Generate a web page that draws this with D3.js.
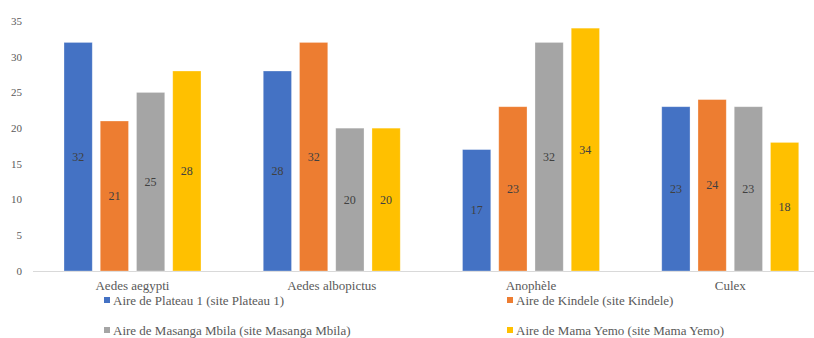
<!DOCTYPE html>
<html>
<head>
<meta charset="utf-8">
<script src="https://cdn.jsdelivr.net/npm/d3@7"></script>
<style>
  html, body { margin: 0; padding: 0; background: #fff; }
  svg text { font-family: "Liberation Serif", "Times New Roman", serif; }
</style>
</head>
<body>
<div class="container"></div>
<script>
const categories = ["Aedes aegypti", "Aedes albopictus", "Anophèle", "Culex"];
const seriesNames = [
  "Aire de Plateau 1 (site Plateau 1)",
  "Aire de Kindele (site Kindele)",
  "Aire de Masanga Mbila (site Masanga Mbila)",
  "Aire de Mama Yemo (site Mama Yemo)"
];
const plateau = [32, 28, 17, 23];
const kindele = [21, 32, 23, 24];
const masanga = [25, 20, 32, 23];
const mamaYemo = [28, 20, 34, 18];
const yTicks = [0, 5, 10, 15, 20, 25, 30, 35];

const colors = ["#4472c4", "#ed7d31", "#a5a5a5", "#ffc000"];
const series = [plateau, kindele, masanga, mamaYemo];

const width = 814, height = 338;

const svg = d3.select(".container")
  .append("svg")
  .attr("width", width)
  .attr("height", height);

const y = d3.scaleLinear().domain([0, 35]).range([271, 21]);

// groupes de barres
const x0 = d3.scaleBand()
  .domain(categories)
  .range([33, 830]);

const x1 = d3.scaleBand()
  .domain(d3.range(seriesNames.length))
  .range([31, 168])
  .paddingInner(0.22);

// y labels
svg.append("g")
  .selectAll("text")
  .data(yTicks)
  .join("text")
  .attr("x", 22)
  .attr("y", d => y(d))
  .attr("dy", "0.35em")
  .attr("text-anchor", "end")
  .attr("font-size", 11)
  .attr("fill", "#595959")
  .text(d => d);

// baseline
svg.append("line")
  .attr("x1", 33).attr("x2", 814)
  .attr("y1", y(0) + 0.5).attr("y2", y(0) + 0.5)
  .attr("stroke", "#d9d9d9")
  .attr("stroke-width", 1);

const groups = svg.append("g")
  .selectAll("g")
  .data(categories)
  .join("g")
  .attr("transform", d => `translate(${x0(d)},0)`);

groups.each(function (cat, ci) {
  const g = d3.select(this);
  series.forEach((vals, si) => {
    const v = vals[ci];
    g.append("rect")
      .attr("x", x1(si))
      .attr("y", y(v))
      .attr("width", x1.bandwidth())
      .attr("height", y(0) - y(v))
      .attr("fill", colors[si])
      .attr("stroke", "#fff")
      .attr("stroke-opacity", 0.4)
      .attr("stroke-width", 0.75);
    g.append("text")
      .attr("x", x1(si) + x1.bandwidth() / 2)
      .attr("y", (y(v) + y(0)) / 2)
      .attr("dy", "0.35em")
      .attr("text-anchor", "middle")
      .attr("font-size", 12)
      .attr("fill", "#404040")
      .text(v);
  });
});

// category labels
svg.append("g")
  .selectAll("text")
  .data(categories)
  .join("text")
  .attr("x", d => x0(d) + 99.5)
  .attr("y", 285)
  .attr("dy", "0.35em")
  .attr("text-anchor", "middle")
  .attr("font-size", 13)
  .attr("fill", "#595959")
  .text(d => d);

// legend
const legendPos = [[104, 300], [507, 300], [104, 330], [507, 330]];
const legend = svg.append("g")
  .selectAll("g")
  .data(seriesNames)
  .join("g")
  .attr("transform", (d, i) => `translate(${legendPos[i][0]},${legendPos[i][1]})`);

legend.append("rect")
  .attr("x", 0).attr("y", -3)
  .attr("width", 6).attr("height", 6)
  .attr("fill", (d, i) => colors[i]);

legend.append("text")
  .attr("x", 9)
  .attr("y", 0)
  .attr("dy", "0.35em")
  .attr("font-size", 13)
  .attr("fill", "#595959")
  .text(d => d);
</script>
</body>
</html>
